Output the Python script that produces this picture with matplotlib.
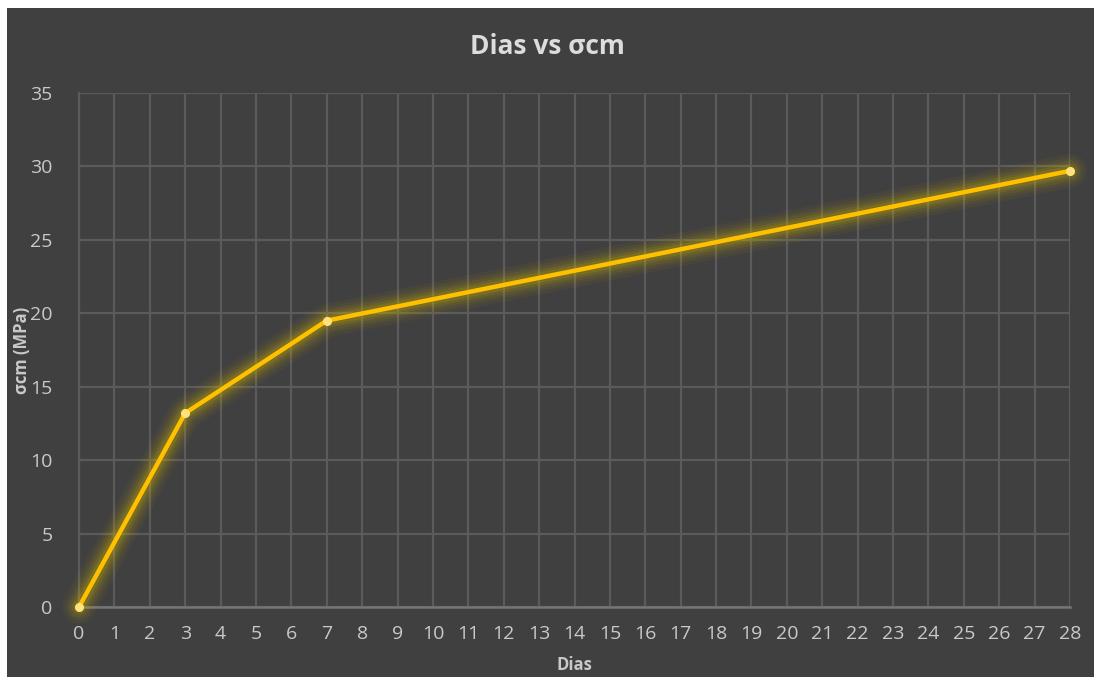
import matplotlib
matplotlib.use("Agg")
import matplotlib.pyplot as plt
from matplotlib.patches import Rectangle

# --- data ------------------------------------------------------------------
dias = [0, 3, 7, 28]
sigma_cm = [0.0, 13.2, 19.5, 29.7]
x_ticks = list(range(0, 29))
y_ticks = [0, 5, 10, 15, 20, 25, 30, 35]

bg = "#404040"
grid_c = "#5b5b5b"
text_c = "#c9c9c9"
line_c = "#FFC000"

plt.rcParams["font.family"] = ["Open Sans", "DejaVu Sans"]

W, H = 1094, 677
fig = plt.figure(figsize=(W / 100, H / 100), dpi=100)
fig.patch.set_facecolor("white")
fig.add_artist(Rectangle((7 / W, 0), 1 - 7 / W, 1 - 8 / H, transform=fig.transFigure,
                         facecolor=bg, edgecolor="none", zorder=0))

ax = fig.add_axes([79 / W, 1 - 607 / H, (1070 - 79) / W, (607 - 93) / H])
ax.set_facecolor(bg)

# soft glow behind the line
for lw, a in [(24, 0.05), (19, 0.07), (15, 0.09), (11, 0.12), (7.5, 0.16)]:
    ax.plot(dias, sigma_cm, color="#d4b400", lw=lw, alpha=a, clip_on=False,
            solid_capstyle="round", solid_joinstyle="round", zorder=3)
ax.plot(dias, sigma_cm, color=line_c, lw=3.2, solid_joinstyle="round",
        clip_on=False, zorder=4)
ax.plot(dias, sigma_cm, ls="none", marker="o", ms=5.5, mfc="#ffe27a",
        mec="#ffe27a", clip_on=False, zorder=5)

ax.set_xlim(0, 28)
ax.set_ylim(0, 35)
ax.set_xticks(x_ticks)
ax.set_yticks(y_ticks)
ax.tick_params(colors=text_c, labelsize=14, length=0)
ax.tick_params(axis="x", pad=13)
ax.tick_params(axis="y", pad=19)
for lbl in ax.get_xticklabels() + ax.get_yticklabels():
    lbl.set_color(text_c)

ax.grid(True, color=grid_c, lw=1.6)
ax.set_axisbelow(True)
for side in ["top", "right"]:
    ax.spines[side].set_visible(False)
ax.spines["left"].set_color(grid_c)
ax.spines["left"].set_linewidth(1.6)
ax.spines["bottom"].set_color("#757575")
ax.spines["bottom"].set_linewidth(1.8)

fig.text(0.5, 1 - 46 / H, "Dias vs σcm", ha="center", va="center",
         color="#dcdcdc", fontsize=19, fontweight="bold")
fig.text((79 + 1070) / 2 / W, 1 - 665 / H, "Dias", ha="center", va="center",
         color=text_c, fontsize=12, fontweight="bold")
fig.text(22 / W, 1 - 350 / H, "σcm (MPa)", ha="center", va="center", rotation=90,
         color=text_c, fontsize=12, fontweight="bold")

fig.savefig("out.png", dpi=100, facecolor=fig.get_facecolor())
